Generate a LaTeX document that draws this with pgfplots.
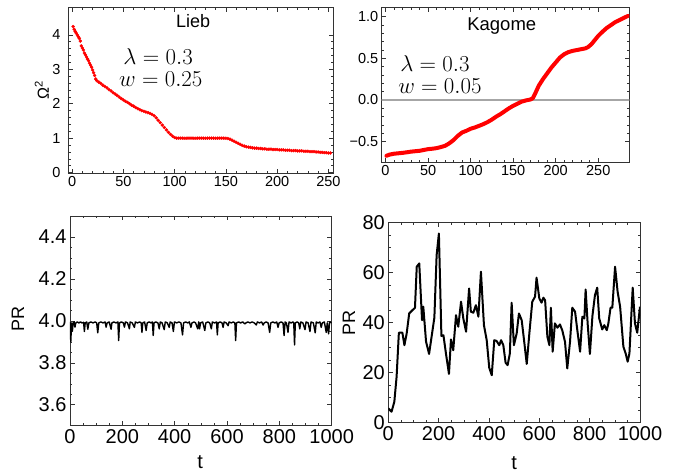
\documentclass[border=0pt]{standalone}
\usepackage{fontspec}
\usepackage{pgfplots}
\pgfplotsset{compat=1.18}
\newfontfamily\lib{Liberation Sans}
\definecolor{framec}{gray}{0.2}
\pgfplotsset{mma/.style={
  scale only axis, anchor=south west,
  axis line style={framec, line width=0.6pt},
  every tick/.style={framec, line width=0.5pt},
  major tick length=4.5pt, minor tick length=2.5pt,
  tick align=inside,
  /pgf/number format/assume math mode=true,
  /pgf/number format/1000 sep={},
  clip mode=individual,
}}
\pgfplotstableread{
x y
1 4.24
2 4.16
3 4.10
4 4.05
5 4.00
6 3.95
7 3.90
8 3.82
9 3.68
10 3.62
11 3.56
12 3.47
13 3.42
14 3.36
15 3.30
16 3.25
17 3.18
18 3.12
19 3.06
20 2.98
21 2.90
22 2.82
23 2.72
24 2.67
26 2.63
28 2.59
30 2.54
32 2.50
34 2.46
36 2.41
38 2.37
40 2.32
42 2.28
44 2.24
46 2.19
48 2.15
50 2.11
52 2.07
54 2.04
56 2.00
58 1.96
60 1.93
62 1.89
64 1.86
66 1.83
68 1.80
70 1.78
72 1.76
74 1.74
76 1.72
78 1.69
80 1.65
82 1.59
84 1.52
86 1.45
88 1.38
90 1.31
92 1.24
94 1.17
96 1.11
98 1.06
100 1.02
102 1.00
104 1.00
106 1.00
108 1.00
110 1.00
112 1.00
114 1.00
116 1.00
118 1.00
120 1.00
122 1.00
124 1.00
126 1.00
128 1.00
130 1.00
132 1.00
134 1.00
136 1.00
138 1.00
140 1.00
142 1.00
144 1.00
146 1.00
148 1.00
150 1.00
152 0.99
154 0.97
156 0.94
158 0.91
160 0.88
162 0.85
164 0.82
166 0.79
168 0.77
170 0.75
172 0.74
174 0.73
176 0.72
178 0.71
180 0.71
182 0.70
184 0.70
186 0.69
188 0.69
190 0.68
192 0.68
194 0.68
196 0.67
198 0.67
200 0.67
202 0.66
204 0.66
206 0.66
208 0.65
210 0.65
212 0.65
214 0.64
216 0.64
218 0.64
220 0.63
222 0.63
224 0.63
226 0.62
228 0.62
230 0.62
232 0.61
234 0.61
236 0.61
238 0.60
240 0.60
242 0.59
244 0.59
246 0.58
248 0.58
250 0.57
252 0.57
}\lieb
\pgfplotstableread{
x y
1 -0.67
5 -0.655
10 -0.645
15 -0.64
20 -0.635
25 -0.628
30 -0.62
35 -0.615
40 -0.61
45 -0.60
50 -0.59
55 -0.585
60 -0.578
65 -0.565
70 -0.55
75 -0.52
80 -0.48
85 -0.43
90 -0.39
95 -0.37
100 -0.345
105 -0.33
110 -0.31
115 -0.29
120 -0.265
125 -0.235
130 -0.20
135 -0.17
140 -0.135
145 -0.10
150 -0.07
155 -0.045
160 -0.02
165 -0.005
170 0.005
173 0.02
176 0.08
180 0.17
185 0.25
190 0.32
195 0.39
200 0.45
205 0.51
210 0.55
215 0.575
220 0.59
225 0.60
230 0.61
235 0.62
238 0.635
242 0.67
246 0.72
250 0.77
255 0.82
260 0.865
265 0.90
270 0.935
275 0.96
280 0.985
285 1.01
}\kagome
\pgfplotstableread{
t v
0 3.995
3 3.90
6 3.99
9 3.95
12 3.99
16 3.995
19 3.97
22 3.99
28 3.995
34 3.99
40 3.995
46 3.99
52 3.993
55 3.949
58 3.99
64 3.995
68 3.96
72 3.99
80 3.995
88 3.99
96 3.995
102 3.99
106 3.943
110 3.99
118 3.995
126 3.99
134 3.995
138 3.97
142 3.99
150 3.995
157 3.96
160 3.99
168 3.995
176 3.99
183 3.995
186 3.906
189 3.99
196 3.995
204 3.99
208 3.97
212 3.995
220 3.99
227 3.962
230 3.995
238 3.99
246 3.969
250 3.995
258 3.99
266 3.995
272 3.99
275 3.945
278 3.99
285 3.995
291 3.954
295 3.99
302 3.995
310 3.99
315 3.995
318 3.93
321 3.99
328 3.995
336 3.99
341 3.962
345 3.995
352 3.99
360 3.958
364 3.995
372 3.99
379 3.969
383 3.995
390 3.99
395 3.949
399 3.995
408 3.99
416 3.995
424 3.99
430 3.933
434 3.99
442 3.995
450 3.99
456 3.995
462 3.969
466 3.99
474 3.995
480 3.99
488 3.962
492 3.995
495 3.962
499 3.99
507 3.995
515 3.954
519 3.99
527 3.995
534 3.99
540 3.962
544 3.995
552 3.99
560 3.995
563 3.933
566 3.99
574 3.995
581 3.99
585 3.969
589 3.995
597 3.99
604 3.977
608 3.995
616 3.99
624 3.995
630 3.99
633 3.906
636 3.99
644 3.995
652 3.99
660 3.995
668 3.985
672 3.99
680 3.995
688 3.99
696 3.995
704 3.99
712 3.98
716 3.995
724 3.99
732 3.995
738 3.98
742 3.99
750 3.995
757 3.99
763 3.945
767 3.99
775 3.995
783 3.99
790 3.995
795 3.969
799 3.99
807 3.995
814 3.99
818 3.93
822 3.995
827 3.99
833 3.945
837 3.995
845 3.99
852 3.995
855 3.99
858 3.885
861 3.99
868 3.995
874 3.99
878 3.962
882 3.995
890 3.99
898 3.958
902 3.995
910 3.99
917 3.949
921 3.995
930 3.99
937 3.943
941 3.995
948 3.99
955 3.995
960 3.969
964 3.99
972 3.995
979 3.945
983 3.99
988 3.938
992 3.995
1000 3.99
}\prlieb
\pgfplotstableread{
t v
0 5.7
13 4.4
24 8.4
33 18.4
42 36
56 36
64 31
73 35.7
83 43.7
99 45.3
106 46
113 62.4
123 63.7
134 41
139 46.4
150 32.4
162 27.5
172 34.4
183 42
192 67
201 75.7
211 34.7
219 35
229 27.7
241 19.5
249 33.3
258 29
269 43
278 38.4
289 48.4
298 41.7
309 36.4
321 53.7
328 44.4
338 44
348 47
358 42.4
368 60.4
380 39
391 33
401 22
411 19
421 33
430 32.7
441 31
448 33
457 31
466 24
474 23
483 27.7
490 48
499 31
510 35.7
519 43.7
530 41
540 32.4
550 23.5
561 36.4
572 48.4
583 50.4
589 58
600 49.7
609 48
616 50
623 49
632 34.4
640 31
646 46
653 28.4
662 39.7
672 38
682 39.3
691 37
702 32.4
711 21.7
722 32.4
731 46
742 44.4
751 37
762 28.4
771 42.4
779 41.7
784 53.3
792 39.7
801 27.5
811 42.7
821 51
830 54
838 41.7
850 37.3
858 39
868 37
874 39.5
883 46
890 46
901 62.4
911 52.4
921 46.4
934 30.4
943 27.7
951 24.4
958 27.7
971 54
980 39.7
989 36
1000 46.4
}\prkagome
\begin{document}
\begin{tikzpicture}
\path[use as bounding box] (0,0) rectangle (678pt,476pt);
% Lieb spectrum
\begin{axis}[mma, at={(68pt,302.7pt)}, width=265pt, height=166pt,
  xmin=-4, xmax=254.5, ymin=-0.02, ymax=4.8,
  xtick={0,50,...,250}, ytick={0,1,2,3,4}, minor x tick num=4, minor y tick num=4,
  tick label style={font=\fontsize{14.5}{16}\lib},
  yticklabel style={xshift=-4pt},
  ylabel={\lib\fontsize{16}{18}\selectfont Ω\textsuperscript{2}},
  every axis y label/.style={at={(rel axis cs:-0.099,0.5)}, rotate=90, anchor=center}]
\addplot[only marks, mark=*, mark size=1.5pt, red, draw=none] table[x=x,y=y] {\lieb};
\node[font=\fontsize{18}{20}\lib] at (rel axis cs:0.472,0.918) {Lieb};
\node[font=\fontsize{20.74}{25}\selectfont, scale=1.1] at (rel axis cs:0.34,0.705) {$\lambda=0.3$};
\node[font=\fontsize{20.74}{25}\selectfont, scale=1.1] at (rel axis cs:0.35,0.565) {$w=0.25$};
\end{axis}
% Kagome spectrum
\begin{axis}[mma, at={(381.7pt,313.7pt)}, width=247.6pt, height=155pt,
  xmin=-4.5, xmax=286.5, ymin=-0.748, ymax=1.113,
  xtick={0,50,...,250}, ytick={-0.5,0,0.5,1}, yticklabels={−0.5,0.0,0.5,1.0},
  minor x tick num=4, minor y tick num=4,
  tick label style={font=\fontsize{14.5}{16}\lib}]
\addplot[gray!70, line width=1.3pt] coordinates {(-10,0) (300,0)};
\addplot[red, line width=4pt, line cap=round, line join=round] table[x=x,y=y] {\kagome};
\node[font=\fontsize{18.5}{20}\lib] at (rel axis cs:0.485,0.88) {Kagome};
\node[font=\fontsize{20.74}{25}\selectfont, scale=1.1] at (rel axis cs:0.215,0.635) {$\lambda=0.3$};
\node[font=\fontsize{20.74}{25}\selectfont, scale=1.1] at (rel axis cs:0.235,0.49) {$w=0.05$};
\end{axis}
% PR Lieb
\begin{axis}[mma, at={(70pt,50.3pt)}, width=261.7pt, height=209.7pt,
  xmin=0, xmax=1000, ymin=3.5, ymax=4.5,
  xtick={0,200,...,1000}, ytick={3.6,3.8,4.0,4.2,4.4}, yticklabels={3.6,3.8,4.0,4.2,4.4},
  minor x tick num=3, minor y tick num=3,
  tick label style={font=\fontsize{20}{22}\lib},
  xlabel={\lib\fontsize{20}{22}\selectfont t},
  ylabel={\lib\fontsize{18}{20}\selectfont PR},
  every axis x label/.style={at={(rel axis cs:0.497,-0.172)}, anchor=center},
  every axis y label/.style={at={(rel axis cs:-0.199,0.508)}, rotate=90, anchor=center}]
\addplot[black, line width=1.4pt, line join=round] table[x=t,y=v] {\prlieb};
\end{axis}
% PR Kagome
\begin{axis}[mma, at={(388.3pt,53.3pt)}, width=251.7pt, height=200pt,
  xmin=0, xmax=1000, ymin=0, ymax=80,
  xtick={0,200,...,1000}, ytick={0,20,...,80},
  minor x tick num=3, minor y tick num=3,
  tick label style={font=\fontsize{20}{22}\lib},
  xlabel={\lib\fontsize{20}{22}\selectfont t},
  ylabel={\lib\fontsize{18}{20}\selectfont PR},
  every axis x label/.style={at={(rel axis cs:0.5,-0.203)}, anchor=center},
  every axis y label/.style={at={(rel axis cs:-0.156,0.5)}, rotate=90, anchor=center}]
\addplot[black, line width=2pt, line join=round] table[x=t,y=v] {\prkagome};
\end{axis}
\end{tikzpicture}
\end{document}
